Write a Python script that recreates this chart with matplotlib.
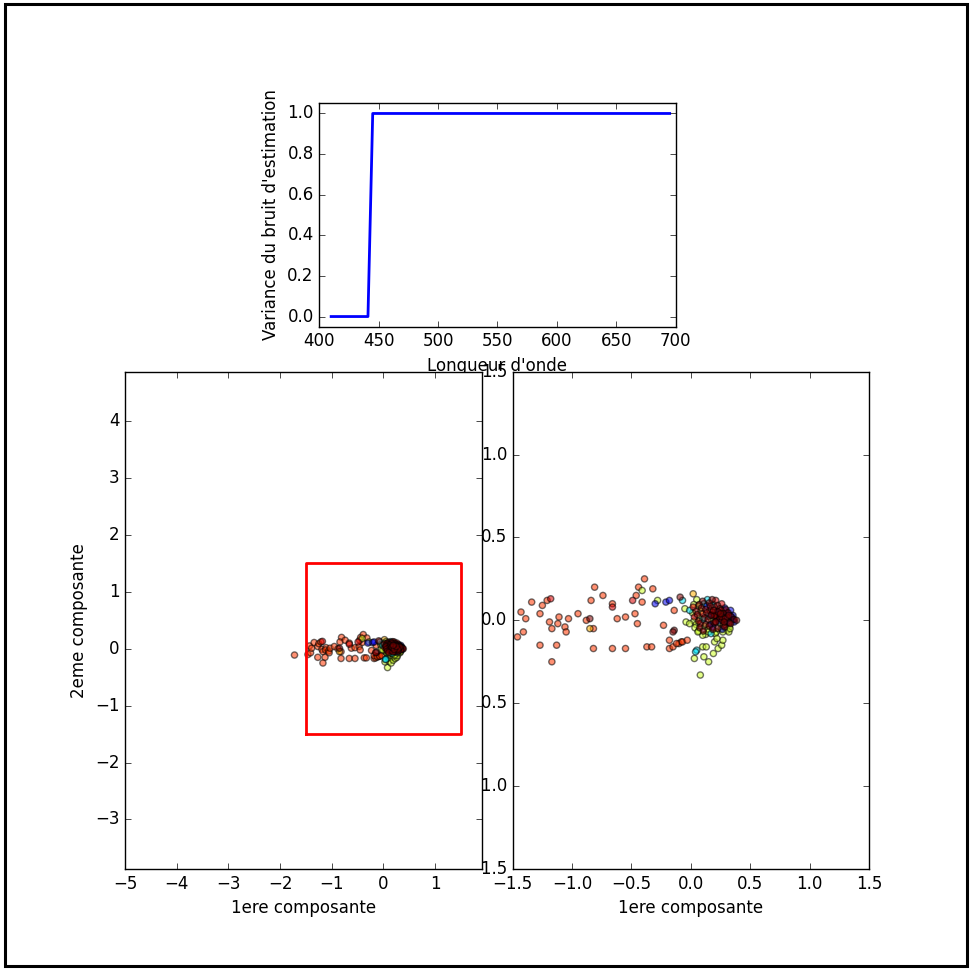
import numpy as np
import matplotlib
matplotlib.use("Agg")
import matplotlib.pyplot as plt
from matplotlib.patches import Rectangle

# Variance du bruit en fonction de la longueur d'onde
longueur = [410, 441, 445, 695]
variance = [0.0, 0.0, 1.0, 1.0]

# Projection sur les deux premieres composantes, par classe (valeur jet)
saumon_x = [-1.72, -1.46, -1.41, -1.43, -1.39, -1.34, -1.27, -1.25, -1.21, -1.19,
            -1.17, -1.11, -1.12, -1.06, -1.05, -1.03, -1.27, -1.13, -1.17, -0.95,
            -0.88, -0.82, -0.81, -0.84, -0.74, -0.66, -0.62, -0.55, -0.82, -0.66,
            -0.55, -0.47, -0.45, -0.41, -0.46, -0.44, -0.39, -0.32, -0.37, -0.33,
            -0.23, -0.18, -0.15, -0.10, -0.08, -0.18, -0.14, -0.12, -0.07, -0.03]
saumon_y = [-0.11, -0.10, -0.07, 0.05, 0.01, 0.11, 0.04, 0.09, 0.12, -0.01,
            -0.05, 0.02, -0.02, -0.04, -0.07, 0.01, -0.15, -0.15, -0.25, 0.04,
            0.00, -0.05, 0.20, 0.12, 0.15, 0.10, 0.01, 0.02, -0.17, -0.17,
            -0.17, 0.04, -0.02, 0.11, 0.15, 0.20, 0.25, 0.19, -0.16, -0.16,
            -0.03, -0.17, -0.16, -0.14, -0.13, -0.12, 0.06, -0.14, -0.13, -0.12]

orange_x = [0.28, 0.02, -0.85]
orange_y = [0.06, 0.16, -0.05]

vert_x = [0.05, 0.025, 0.065, 0.085, 0.015, 0.235, 0.075, 0.025, 0.175, 0.285,
          0.045, 0.245, 0.035, 0.115, 0.255, 0.325, 0.065, 0.145, 0.215, 0.305,
          0.125, 0.205, 0.08, 0.03, 0.10, 0.13, 0.11, 0.15, 0.19, 0.20,
          0.23, 0.26, 0.27, 0.22, 0.32, 0.33, 0.27, 0.15, 0.10, 0.06,
          -0.28, -0.41, -0.05, -0.04, -0.01]
vert_y = [0.125, 0.095, 0.085, 0.055, 0.045, 0.035, 0.015, -0.005, 0.005, -0.01,
          -0.025, -0.015, -0.045, -0.035, -0.05, -0.04, -0.065, -0.055, -0.07, -0.06,
          -0.085, -0.08, -0.33, -0.23, -0.16, -0.16, -0.22, -0.25, -0.20, -0.13,
          -0.17, -0.15, -0.12, -0.11, -0.07, -0.05, -0.07, -0.07, -0.09, -0.07,
          0.12, 0.18, 0.07, -0.01, -0.02]

cyan_x = [0.14, 0.11, 0.19, 0.15, 0.10, 0.17, -0.07, -0.01, 0.05, 0.04]
cyan_y = [0.125, 0.10, 0.095, 0.025, 0.005, -0.08, 0.12, 0.06, -0.18, -0.19]

bleu_x = [0.135, 0.285, 0.225, 0.335, 0.175, 0.305, 0.355, 0.275, 0.345, 0.235,
          0.355, 0.165, 0.305, 0.365, 0.185, 0.265, -0.30, -0.21, -0.18]
bleu_y = [0.085, 0.075, 0.055, 0.06, 0.035, 0.045, 0.03, 0.015, 0.02, -0.005,
          0.005, -0.025, -0.015, -0.01, -0.04, -0.055, 0.10, 0.11, 0.12]

rouge_x = [0.21, 0.26, 0.02, 0.20, 0.16, 0.10, 0.03, 0.22, 0.08, -1.18, -0.66, -0.49]
rouge_y = [0.12, 0.10, 0.08, 0.08, 0.06, 0.04, 0.02, 0.02, -0.02, 0.13, 0.08, 0.12]

bordeaux_x = [0.10, 0.18, 0.07, 0.155, 0.225, 0.09, 0.165, 0.245, 0.295, 0.045,
              0.125, 0.185, 0.255, 0.315, 0.055, 0.135, 0.215, 0.275, 0.335, 0.115,
              0.195, 0.245, 0.305, 0.365, 0.065, 0.145, 0.205, 0.265, 0.325, 0.385,
              0.125, 0.195, 0.275, 0.335, 0.075, 0.155, 0.225, 0.285, 0.105, 0.185,
              0.20, 0.26, 0.29, 0.23, 0.17, 0.32, 0.28, 0.21, 0.25, 0.19,
              -0.14, -0.15, -0.85, -0.09]
bordeaux_y = [0.115, 0.125, 0.095, 0.105, 0.09, 0.075, 0.085, 0.07, 0.065, 0.055,
              0.065, 0.05, 0.06, 0.045, 0.035, 0.045, 0.03, 0.04, 0.025, 0.015,
              0.025, 0.01, 0.02, 0.005, -0.005, 0.005, -0.01, 0.0, -0.015, 0.0,
              -0.025, -0.015, -0.03, -0.02, -0.045, -0.035, -0.05, -0.04, -0.065, -0.055,
              0.03, 0.02, 0.01, 0.05, 0.03, 0.03, -0.01, -0.01, 0.04, 0.06,
              -0.06, -0.07, 0.01, 0.14]

groupes = [(saumon_x, saumon_y, 0.85), (orange_x, orange_y, 0.72),
           (vert_x, vert_y, 0.6), (cyan_x, cyan_y, 0.35), (bleu_x, bleu_y, 0.1),
           (rouge_x, rouge_y, 0.92), (bordeaux_x, bordeaux_y, 1.0)]

# cadre du zoom
cadre_x = [-1.5, 1.5, 1.5, -1.5, -1.5]
cadre_y = [-1.5, -1.5, 1.5, 1.5, -1.5]

plt.style.use('classic')
fig = plt.figure(figsize=(9.71, 9.72), dpi=100, facecolor='white')

ax_haut = fig.add_axes([0.3288, 0.6639, 0.3670, 0.2298])
ax_haut.plot(longueur, variance, color='b', linewidth=2)
ax_haut.set_xlim(400, 700)
ax_haut.set_ylim(-0.05, 1.05)
ax_haut.set_xticks(np.arange(400, 701, 50))
ax_haut.set_yticks(np.arange(0, 1.01, 0.2))
ax_haut.set_xlabel("Longueur d'onde")
ax_haut.set_ylabel("Variance du bruit d'estimation")

ax_droite = fig.add_axes([0.5280, 0.1060, 0.3669, 0.5116])
ax_gauche = fig.add_axes([0.1287, 0.1060, 0.3673, 0.5116])
ax_gauche.set_zorder(2)

for ax in (ax_gauche, ax_droite):
    for gx, gy, val in groupes:
        ax.scatter(gx, gy, c=[val] * len(gx), cmap='jet', vmin=0, vmax=1,
                   s=20, alpha=0.55, edgecolors='k', linewidths=1)
    ax.set_xlabel("1ere composante")

ax_gauche.plot(cadre_x, cadre_y, color='r', linewidth=2)
ax_gauche.set_xlim(-5, 1.9)
ax_gauche.set_ylim(-3.87, 4.87)
ax_gauche.set_xticks(np.arange(-5, 2, 1))
ax_gauche.set_yticks(np.arange(-3, 5, 1))
ax_gauche.set_ylabel("2eme composante")

ax_droite.set_xlim(-1.5, 1.5)
ax_droite.set_ylim(-1.5, 1.5)
ax_droite.set_xticks(np.arange(-1.5, 1.51, 0.5))
ax_droite.set_yticks(np.arange(-1.5, 1.51, 0.5))

# bordure noire autour de la figure
fig.add_artist(Rectangle((4.5 / 971, 6.5 / 972), 962 / 971, 961 / 972,
                         transform=fig.transFigure, fill=False,
                         edgecolor='k', linewidth=2.2))

fig.savefig("out.png", dpi=100, facecolor='white')
